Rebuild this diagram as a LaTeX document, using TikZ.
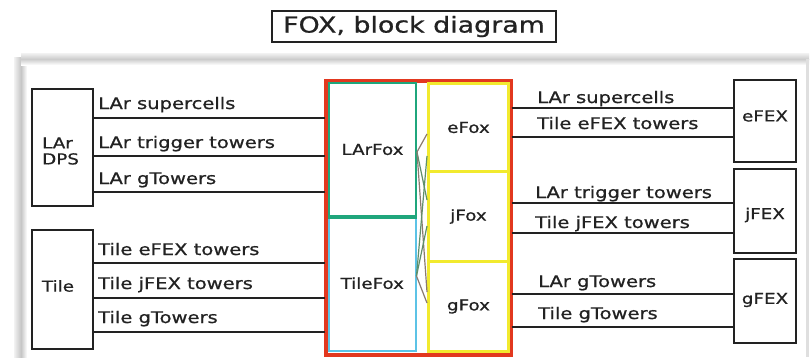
\documentclass[tikz,border=0pt]{standalone}
\usepackage{fontspec}
\newfontfamily\dv[FakeStretch=1.22,FakeBold=0.8]{DejaVu Sans}
\definecolor{ink}{HTML}{222222}
\definecolor{foxred}{HTML}{E2381F}
\definecolor{larfoxgreen}{HTML}{1FA67C}
\definecolor{tilefoxcyan}{HTML}{5CC3E6}
\definecolor{foxyellow}{HTML}{F2EA2E}
\definecolor{linkbrown}{HTML}{8A7A70}
\definecolor{linkgreen}{HTML}{5F8F6A}
\tikzset{
  blk/.style={draw=ink, line width=2pt, fill=white, anchor=north west, inner sep=0pt},
  boxlbl/.style={font=\dv\fontsize{15}{16}\selectfont, text=ink, align=center, inner sep=0pt},
  lbl/.style={font=\dv\fontsize{16}{18}\selectfont, text=ink, anchor=base west, inner sep=0pt},
  wire/.style={draw=ink, line width=2.2pt},
  link/.style={line width=1.2pt},
  board/.style={anchor=north west, inner sep=0pt}
}
\begin{document}
\begin{tikzpicture}[x=1pt, y=-1pt]
\useasboundingbox (0,0) rectangle (812,357);
% page panel with its soft shadow
\fill[white] (0,0) rectangle (812,357);
\shade[left color=gray!10, right color=gray!45] (14,57) rectangle (21,357);
\shade[left color=gray!45, right color=white] (21,57) rectangle (27,357);
\shade[top color=gray!10, bottom color=gray!40] (21,53) rectangle (809,59);
\shade[top color=gray!40, bottom color=white] (21,59) rectangle (809,65);
\fill[gray!25] (806,59) rectangle (809,357);

% title
\node[draw=ink, line width=1.3pt, minimum width=284pt, minimum height=31pt,
      font=\dv\fontsize{22}{24}\selectfont, text=ink, inner sep=0pt] (title) at (414,26.5) {FOX, block diagram};

% sources
\node[blk, minimum width=61pt, minimum height=117pt] (lardps) at (31,88) {};
\node[boxlbl, align=left, anchor=west] (lardpslbl) at (42,151) {LAr\\DPS};
\node[blk, minimum width=61pt, minimum height=119pt] (tile) at (31,229) {};
\node[boxlbl] (tilelbl) at (58,286) {Tile};

% FOX crate and its boards
\node[draw=foxred, line width=2.8pt, minimum width=184pt, minimum height=273pt, board] (fox) at (325,80) {};
\node[draw=larfoxgreen, line width=2pt, minimum width=87pt, minimum height=133pt, board] (larfox) at (328,82) {};
\node[draw=tilefoxcyan, line width=1.5pt, minimum width=87pt, minimum height=135pt, board] (tilefox) at (328,215) {};
\draw[larfoxgreen, line width=3.2pt] (larfox.south west) -- (larfox.south east);
\node[draw=foxyellow, line width=3pt, minimum width=80pt, minimum height=88pt, board] (efox) at (427,82) {};
\node[draw=foxyellow, line width=3pt, minimum width=80pt, minimum height=90pt, board] (jfox) at (427,170) {};
\node[draw=foxyellow, line width=3pt, minimum width=80pt, minimum height=90pt, board] (gfox) at (427,260) {};
\draw[foxred, line width=2.8pt] (fox.north west) rectangle (fox.south east);
\node[boxlbl] (larfoxlbl) at (larfox.center) {LArFox};
\node[boxlbl] (tilefoxlbl) at (tilefox.center) {TileFox};
\node[boxlbl] (efoxlbl) at (efox.center) {eFox};
\node[boxlbl] (jfoxlbl) at (jfox.center) {jFox};
\node[boxlbl] (gfoxlbl) at (gfox.center) {gFox};

% fibre fan-out between the boards
\draw[link, linkbrown] (larfox.east |- 0,152) -- (efox.west |- 0,134);
\draw[link, linkgreen] (larfox.east |- 0,152) -- (jfox.west |- 0,200);
\draw[link, linkbrown] (larfox.east |- 0,152) -- (gfox.west |- 0,292);
\draw[link, linkgreen] (tilefox.east |- 0,276) -- (efox.west |- 0,156);
\draw[link, linkgreen] (tilefox.east |- 0,276) -- (jfox.west |- 0,226);
\draw[link, linkbrown] (tilefox.east |- 0,276) -- (gfox.west |- 0,303);

% destinations
\node[blk, minimum width=62pt, minimum height=82pt] (efex) at (733,79) {};
\node[blk, minimum width=62pt, minimum height=84pt] (jfex) at (733,168) {};
\node[blk, minimum width=62pt, minimum height=84pt] (gfex) at (733,258) {};
\node[boxlbl] (efexlbl) at ([yshift=5pt]efex.center) {eFEX};
\node[boxlbl] (jfexlbl) at (efexlbl |- 0,215) {jFEX};
\node[boxlbl] (gfexlbl) at (efexlbl |- 0,300) {gFEX};

% input links
\draw[wire] (lardps.east |- 0,118) -- (fox.west |- 0,118);
\draw[wire] (lardps.east |- 0,156) -- (fox.west |- 0,156);
\draw[wire] (lardps.east |- 0,192) -- (fox.west |- 0,192);
\draw[wire] (tile.east |- 0,263) -- (fox.west |- 0,263);
\draw[wire] (tile.east |- 0,298) -- (fox.west |- 0,298);
\draw[wire] (tile.east |- 0,332) -- (fox.west |- 0,332);
\node[lbl] (in1) at (98,109) {LAr supercells};
\node[lbl] (in2) at (98,148) {LAr trigger towers};
\node[lbl] (in3) at (98,184) {LAr gTowers};
\node[lbl] (in4) at (98,255) {Tile eFEX towers};
\node[lbl] (in5) at (98,289) {Tile jFEX towers};
\node[lbl] (in6) at (98,323) {Tile gTowers};

% output links
\draw[wire] (fox.east |- 0,108) -- (efex.west |- 0,108);
\draw[wire] (fox.east |- 0,137) -- (efex.west |- 0,137);
\draw[wire] (fox.east |- 0,203) -- (jfex.west |- 0,203);
\draw[wire] (fox.east |- 0,233) -- (jfex.west |- 0,233);
\draw[wire] (fox.east |- 0,294) -- (gfex.west |- 0,294);
\draw[wire] (fox.east |- 0,327) -- (gfex.west |- 0,327);
\node[lbl] (out1) at (537,103) {LAr supercells};
\node[lbl] (out2) at (537,129) {Tile eFEX towers};
\node[lbl] (out3) at (535,198) {LAr trigger towers};
\node[lbl] (out4) at (535,228) {Tile jFEX towers};
\node[lbl] (out5) at (538,287) {LAr gTowers};
\node[lbl] (out6) at (538,319) {Tile gTowers};
\end{tikzpicture}
\end{document}
